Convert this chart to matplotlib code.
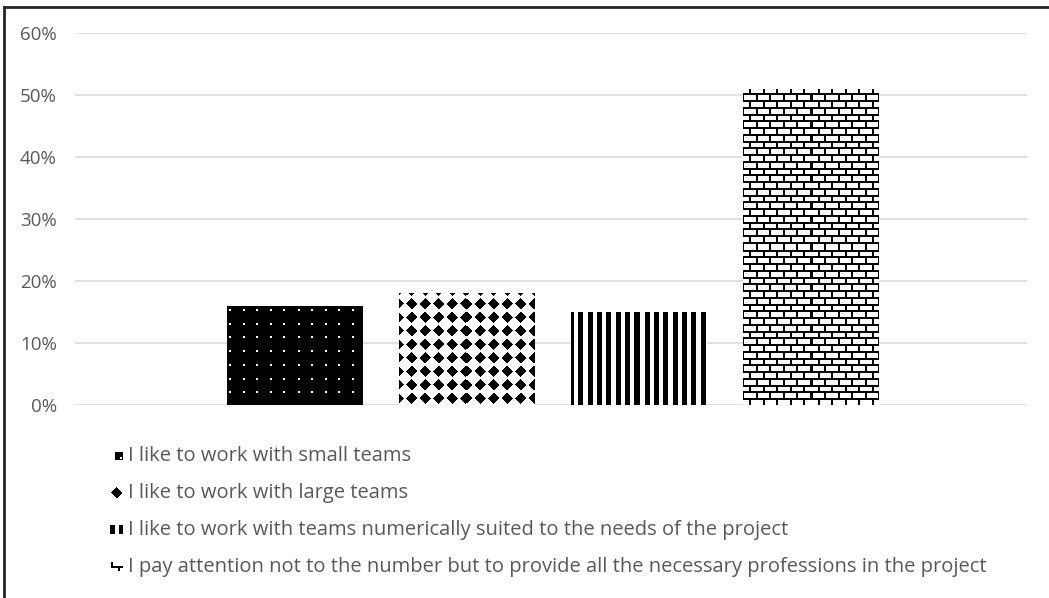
import numpy as np
import matplotlib
matplotlib.use("Agg")
import matplotlib.pyplot as plt
from matplotlib.lines import Line2D

W, H, DPI = 1049, 598, 100

# ---------------- data ----------------
labels = ["I like to work with small teams",
          "I like to work with large teams",
          "I like to work with teams numerically suited to the needs of the project",
          "I pay attention not to the number but to provide all the necessary professions in the project"]
values = [0.16, 0.18, 0.15, 0.51]
yticks = [0.0, 0.1, 0.2, 0.3, 0.4, 0.5, 0.6]
ytick_labels = ["0%", "10%", "20%", "30%", "40%", "50%", "60%"]

TEXT = "#595959"
plt.rcParams["font.family"] = ["Open Sans", "DejaVu Sans"]


# ---------------- fill patterns, in screen pixels (1 = black) ----------------
def pat_dots(x, y):
    P = 13.5
    return ~(((x % P) < 2) & ((y % P) < 2))

def pat_diamonds(x, y):
    P = 13.5
    u = np.abs((x % P) - P / 2); v = np.abs((y % P) - P / 2)
    return (u + v) <= 5.7

def pat_stripes(x, y):
    return (x % 9.33) < 4.9

def pat_bricks(x, y):
    C, B, t = 6.75, 13.5, 1.9
    course = np.floor(y / C).astype(int)
    xs = x + (course % 2) * (B / 2)
    return ((y % C) < t) | ((xs % B) < t)

PAT = [pat_dots, pat_diamonds, pat_stripes, pat_bricks]
# legend swatch crops: (x offset, y offset, w, h) in screen px
MARK = [(8, 8, 8, 8), (1, 1, 12, 12), (0, 0, 13, 9), (0, 3, 12, 9)]


def texture(fn, px0, py0, w, h):
    xx, yy = np.meshgrid(px0 + np.arange(w) + 0.5, py0 + np.arange(h) + 0.5)
    return fn(xx, yy).astype(float)


fig = plt.figure(figsize=(W / DPI, H / DPI), dpi=DPI)
ax = fig.add_axes([75 / W, 1 - 405 / H, 952 / W, 372 / H])

x = np.arange(len(values))
bars = ax.bar(x, values, width=0.785, color="none", linewidth=0, zorder=2)
ax.set_xlim(-1.276, len(values) - 1 + 1.259)
ax.set_ylim(0, 0.6)
ax.set_yticks(yticks)
ax.set_yticklabels(ytick_labels)
ax.set_xticks([])
ax.grid(axis="y", color="#d9d9d9", linewidth=1.1, zorder=0)
ax.set_axisbelow(True)
for s in ax.spines.values():
    s.set_visible(False)
ax.tick_params(axis="y", length=0, pad=13, labelsize=13.5, labelcolor=TEXT)

# textured bar fills, anchored to the figure's pixel grid
for b, fn in zip(bars, PAT):
    (x0, y0), (x1, y1) = ax.transData.transform([(b.get_x(), 0), (b.get_x() + b.get_width(), b.get_height())])
    w, h = int(round(x1 - x0)), int(round(y1 - y0))
    arr = texture(fn, int(round(x0)), int(round(H - y1)), w, h)
    im = ax.imshow(arr, extent=(b.get_x(), b.get_x() + b.get_width(), 0, b.get_height()),
                   origin="upper", cmap="gray_r", vmin=0, vmax=1, interpolation="nearest",
                   aspect="auto", zorder=3)
    im.set_clip_path(b)

# legend: small pattern swatch + label, stacked below the plot
rows_y = [456, 493, 530, 567]
for fn, (mx, my, mw, mh), lab, ry in zip(PAT, MARK, labels, rows_y):
    sw = texture(fn, mx, my, mw, mh)
    fig.figimage(sw, xo=123 - mw, yo=H - ry - mh // 2, origin="upper", cmap="gray_r", vmin=0, vmax=1)
    fig.text(128 / W, 1 - ry / H, lab, ha="left", va="center", fontsize=14.5, color=TEXT)

# outer frame (left + top edges visible in the crop)
fig.add_artist(Line2D([4 / W, 4 / W], [0, 1 - 7 / H], color="#262626", linewidth=2, transform=fig.transFigure))
fig.add_artist(Line2D([4 / W, 1], [1 - 7 / H, 1 - 7 / H], color="#262626", linewidth=2, transform=fig.transFigure))

fig.savefig("out.png", dpi=DPI)
